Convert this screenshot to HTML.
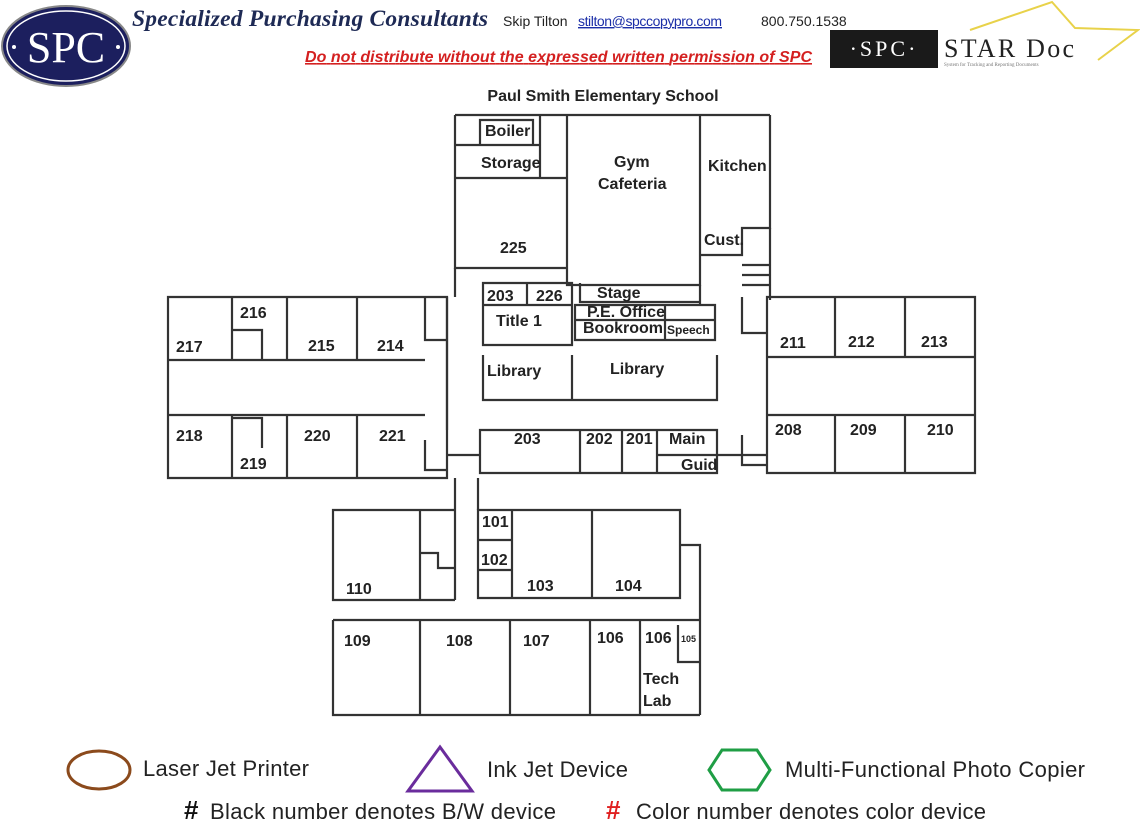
<!DOCTYPE html>
<html><head><meta charset="utf-8"><style>
html,body{margin:0;padding:0;background:#fff;width:1140px;height:828px;overflow:hidden}
svg{display:block}
.r{font-family:"Liberation Sans",sans-serif;font-weight:bold;font-size:16px;fill:#222}
.w{stroke:#333;stroke-width:2.2;fill:none}
.l{font-family:"Liberation Sans",sans-serif;font-size:22px;fill:#222}
</style></head><body>
<svg width="1140" height="828" viewBox="0 0 1140 828" xmlns="http://www.w3.org/2000/svg">
<ellipse cx="66" cy="46" rx="64" ry="40" fill="#1c1f5e" stroke="#888" stroke-width="2"/>
<ellipse cx="66" cy="46" rx="59" ry="35" fill="none" stroke="#fff" stroke-width="1.5"/>
<text x="66" y="62" text-anchor="middle" font-family="Liberation Serif,serif" font-size="44" fill="#fff">SPC</text>
<circle cx="14" cy="47" r="2" fill="#fff"/><circle cx="118" cy="47" r="2" fill="#fff"/>
<text x="132" y="26" font-family="Liberation Serif,serif" font-style="italic" font-weight="bold" font-size="23.5" fill="#1e2a55" textLength="356">Specialized Purchasing Consultants</text>
<text x="503" y="26" font-family="Liberation Sans,sans-serif" font-size="14" fill="#222">Skip Tilton</text>
<text x="578" y="26" font-family="Liberation Sans,sans-serif" font-size="14" fill="#1b2ea8" text-decoration="underline" textLength="144">stilton@spccopypro.com</text>
<text x="761" y="26" font-family="Liberation Sans,sans-serif" font-size="14" fill="#222">800.750.1538</text>
<text x="305" y="62" font-family="Liberation Sans,sans-serif" font-style="italic" font-weight="bold" font-size="16" fill="#d42020" text-decoration="underline" textLength="507">Do not distribute without the expressed written permission of SPC</text>
<polyline points="970,30 1052,2 1075,28 1138,30 1098,60" fill="none" stroke="#e8d24a" stroke-width="2"/>
<rect x="830" y="30" width="108" height="38" fill="#1a1a1a"/>
<text x="884" y="56" text-anchor="middle" font-family="Liberation Serif,serif" font-size="22" fill="#fff" letter-spacing="3">·SPC·</text>
<text x="944" y="57" font-family="Liberation Serif,serif" font-size="26" fill="#222" textLength="130">STAR Doc</text>
<text x="944" y="66" font-family="Liberation Serif,serif" font-size="5" fill="#777">System for Tracking and Reporting Documents</text>

<text x="603" y="101" text-anchor="middle" class="r" font-size="15.5">Paul Smith Elementary School</text>

<g class="w">
<path d="M455 115H770M455 115V268H567M567 115V285H700V228M700 115V255H742V228H770V115"/>
<path d="M480 120H533V145H480ZM455 145H540V178H455M540 115V178M455 178H567"/>
<path d="M742 265H770M742 275H770M742 285H770M770 228V300"/>
<path d="M483 283H572V305H483ZM527 283V305M483 305V345H572V283M483 345H572"/>
<path d="M580 283V302H700M575 305H715V340H575ZM575 320H715M665 305V340M700 285V305"/>
<path d="M483 355V400H717V355M572 355V400"/>
<path d="M168 297H447V478H168ZM168 360H425M168 415H425M232 297V360M287 297V360M357 297V360M425 297V340H447M232 415V478M287 415V478M357 415V478M425 440V470H447"/>
<path d="M232 330H262V360M232 418H262V448"/>
<path d="M767 297H975V473H767ZM767 357H975M767 415H975M835 297V357M905 297V357M835 415V473M905 415V473M742 297V333H767M742 435V465H767"/>
<path d="M480 430H717V473H480ZM580 430V473M622 430V473M657 430V473M657 455H717M447 455H480M717 455H767"/>
<path d="M447 297V430M455 268V297M455 478V600M478 478V510"/>
<path d="M333 510H420V600H333ZM420 510H455M420 600H455M420 553H438V568H455"/>
<path d="M478 510H680V598H478ZM512 510V598M592 510V598M478 540H512M478 570H512M680 545H700V715"/>
<path d="M333 620H700M333 620V715H700M420 620V715M510 620V715M590 620V715M640 620V715M678 625V662H700"/>
</g>
<g class="r">
<text x="485" y="136">Boiler</text><text x="481" y="168">Storage</text>
<text x="614" y="167">Gym</text><text x="598" y="189">Cafeteria</text>
<text x="708" y="171">Kitchen</text><text x="704" y="245">Cust.</text>
<text x="500" y="253">225</text>
<text x="487" y="301">203</text><text x="536" y="301">226</text>
<text x="597" y="298">Stage</text><text x="587" y="317">P.E. Office</text>
<text x="583" y="333">Bookroom</text><text x="667" y="334" font-size="12">Speech</text>
<text x="496" y="326">Title 1</text>
<text x="487" y="376">Library</text><text x="610" y="374">Library</text>
<text x="176" y="352">217</text><text x="240" y="318">216</text><text x="308" y="351">215</text><text x="377" y="351">214</text>
<text x="176" y="441">218</text><text x="240" y="469">219</text><text x="304" y="441">220</text><text x="379" y="441">221</text>
<text x="780" y="348">211</text><text x="848" y="347">212</text><text x="921" y="347">213</text>
<text x="775" y="435">208</text><text x="850" y="435">209</text><text x="927" y="435">210</text>
<text x="514" y="444">203</text><text x="586" y="444">202</text><text x="626" y="444">201</text>
<text x="669" y="444">Main</text><text x="681" y="470">Guid</text>
<text x="482" y="527">101</text><text x="481" y="565">102</text>
<text x="527" y="591">103</text><text x="615" y="591">104</text><text x="346" y="594">110</text>
<text x="344" y="646">109</text><text x="446" y="646">108</text><text x="523" y="646">107</text>
<text x="597" y="643">106</text><text x="645" y="643">106</text>
<text x="681" y="642" font-size="9">105</text>
<text x="643" y="684">Tech</text><text x="643" y="706">Lab</text>
</g>
<ellipse cx="99" cy="770" rx="31" ry="19" fill="none" stroke="#8b4a1c" stroke-width="3"/>
<text x="143" y="776" class="l" textLength="166">Laser Jet Printer</text>
<polygon points="440,747 472,791 408,791" fill="none" stroke="#6a2c9c" stroke-width="3"/>
<text x="487" y="777" class="l" textLength="141">Ink Jet Device</text>
<polygon points="722,750 757,750 770,770 757,790 722,790 709,770" fill="none" stroke="#1f9e45" stroke-width="3"/>
<text x="785" y="777" class="l" textLength="300">Multi-Functional Photo Copier</text>
<text x="184" y="819" font-family="Liberation Sans,sans-serif" font-weight="bold" font-size="26" fill="#111">#</text>
<text x="210" y="819" class="l" textLength="346">Black number denotes B/W device</text>
<text x="606" y="819" font-family="Liberation Sans,sans-serif" font-weight="bold" font-size="26" fill="#e02020">#</text>
<text x="636" y="819" class="l" textLength="350">Color number denotes color device</text>
</svg>
</body></html>
